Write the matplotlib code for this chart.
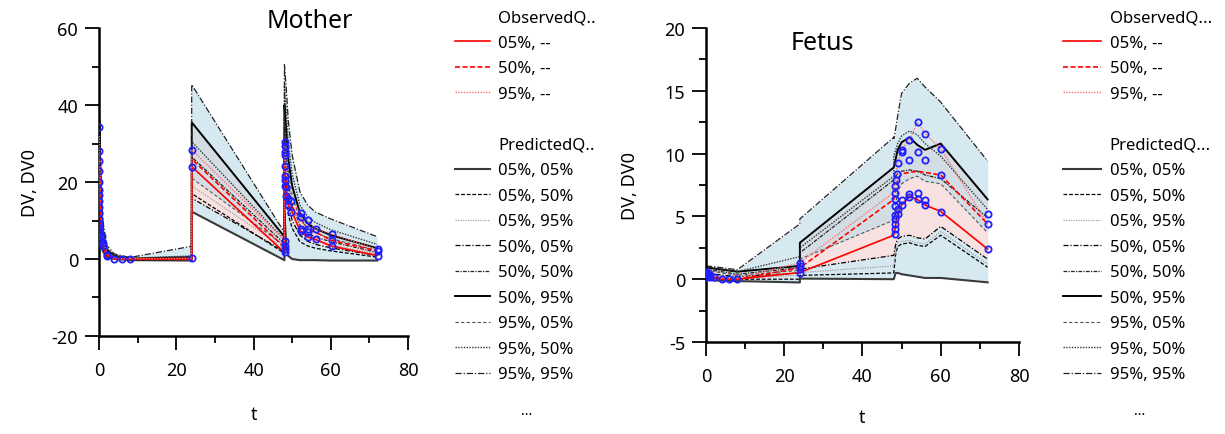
import matplotlib
matplotlib.use('Agg')
import matplotlib.pyplot as plt
from matplotlib.lines import Line2D
from matplotlib.ticker import MultipleLocator
import numpy as np

plt.rcParams['font.family'] = ['Noto Sans', 'DejaVu Sans']
plt.rcParams['axes.unicode_minus'] = False

# ---------------- Mother ----------------
t_m = [0, 0.5, 1, 2, 4, 8, 24, 24, 48, 48, 48.5, 49, 50, 52, 54, 56, 60, 72]
m_p05_05 = [15, 5, 2.0, 0.5, 0.0, -0.3, -0.4, 12.3, -0.3, 12, 3, 0.8, 0, -0.3, -0.3, -0.3, -0.4, -0.4]
m_p05_50 = [22, 7, 3.0, 0.8, 0.1, -0.2, -0.1, 17.0, 1.5, 22, 16, 11.5, 8, 4.5, 3.4, 2.8, 2.1, 0.5]
m_p05_95 = [29, 10, 4.0, 1.3, 0.3, -0.1, 0.1, 19.0, 2.8, 29, 23, 17, 12, 7.5, 5.8, 4.8, 3.7, 1.3]
m_p50_05 = [26, 9, 3.5, 1.0, 0.2, -0.1, 0.0, 15.8, 2.0, 26, 20, 14.5, 10, 6.2, 4.6, 3.8, 2.9, 0.9]
m_p50_50 = [32, 12, 5.0, 1.6, 0.4, 0.0, 0.2, 26.5, 4.0, 33, 27, 20, 14, 8.8, 6.8, 5.7, 4.5, 1.7]
m_p50_95 = [38, 16, 7.0, 2.4, 0.8, 0.1, 0.5, 35.5, 5.8, 40, 33, 26, 19, 12, 9.3, 7.9, 6.2, 2.8]
m_p95_05 = [35, 14, 6.0, 2.0, 0.6, 0.0, 0.3, 21.0, 3.5, 36, 30, 23, 16.5, 10.3, 8.0, 6.8, 5.3, 2.2]
m_p95_50 = [40, 18, 8.0, 2.8, 1.0, 0.2, 0.8, 30.5, 5.0, 45, 38, 30, 22, 14, 11, 9.5, 7.6, 3.8]
m_p95_95 = [45, 22, 10, 3.5, 1.3, 0.4, 3.3, 45.3, 6.9, 50.5, 44, 36, 27, 17.5, 14, 12.2, 10.4, 5.8]

to_m = [0.1, 0.5, 1, 2, 4, 6, 8, 24, 24, 48, 48, 49, 50, 52, 54, 56, 60, 72]
m_obs05 = [22, 8, 3.5, 0.8, 0.0, 0.0, 0.0, 0.0, 24.0, 1.7, 19.0, 13.9, 12.2, 7.4, 5.7, 5.1, 3.4, 0.9]
m_obs50 = [26, 10, 4.5, 1.0, 0.1, 0.0, 0.0, 0.1, 26.0, 3.0, 24.0, 15.6, 13.5, 10.8, 7.8, 7.0, 4.9, 2.1]
m_obs95 = [32, 14, 6.0, 1.6, 0.2, 0.1, 0.1, 0.2, 28.4, 4.8, 30.0, 16.4, 15.1, 12.0, 10.1, 7.8, 6.6, 2.5]

m_pts_t = [0.1] * 16 + [0.6, 0.8, 1.0, 1.0, 2, 2, 4, 6, 8, 24, 24, 24] + [48.2] * 12 + \
          [48.5, 48.4, 48.9, 48.9, 49.7, 49.7, 52.2, 52.2, 52.2, 52.2, 54.2, 54.2, 54.2, 54.2,
           56.2, 56.2, 60.3, 60.3, 60.3, 72.1, 72.1, 72.1]
m_pts_v = [34.4, 28, 25.5, 22.8, 20, 18, 16.5, 15, 13.5, 12, 10.5, 9, 8, 7, 6, 5] + \
          [4.8, 6.0, 4.2, 3.5, 1.0, 0.8, 0.1, 0.05, 0.0, 0.2, 28.4, 24.0] + \
          [4.8, 3.5, 2.6, 1.7, 30.3, 29.4, 27.7, 27.0, 24.1, 21.6, 20.4, 19.0] + \
          [18.6, 16.4, 15.6, 13.9, 15.1, 12.2, 12.0, 10.8, 7.8, 7.4, 10.1, 7.8, 7.0, 5.7,
           7.8, 5.1, 6.6, 4.9, 3.4, 2.5, 2.1, 0.9]

# ---------------- Fetus ----------------
t_f = [0, 2, 8, 24, 24, 48, 48, 48.5, 49, 50, 52, 54, 56, 60, 72]
f_p05_05 = [0.0, -0.1, -0.15, -0.26, 0.05, 0.0, 0.0, 0.5, 0.5, 0.4, 0.3, 0.2, 0.1, 0.1, -0.25]
f_p05_50 = [0.3, 0.1, 0.0, 0.0, 0.3, 0.5, 0.5, 2.0, 2.6, 2.8, 2.9, 2.7, 2.6, 3.5, 0.95]
f_p05_95 = [0.5, 0.3, 0.1, 0.3, 0.53, 1.06, 1.06, 2.4, 2.9, 3.0, 3.1, 2.9, 2.8, 3.8, 1.2]
f_p50_05 = [0.6, 0.4, 0.2, 0.5, 0.8, 1.9, 1.9, 2.8, 3.2, 3.4, 3.5, 3.3, 3.2, 4.2, 1.6]
f_p50_50 = [0.8, 0.7, 0.4, 0.9, 2.1, 7.9, 7.9, 8.2, 8.4, 8.6, 8.7, 8.6, 8.3, 8.0, 4.9]
f_p50_95 = [0.95, 0.85, 0.6, 1.06, 2.9, 8.9, 8.9, 9.6, 10.3, 10.9, 11.3, 10.7, 10.3, 10.8, 6.35]
f_p95_05 = [0.7, 0.6, 0.3, 0.7, 1.6, 4.7, 4.7, 6.0, 7.0, 7.6, 8.0, 8.2, 7.8, 7.6, 3.7]
f_p95_50 = [1.0, 0.9, 0.6, 1.8, 2.5, 8.2, 9.8, 10.3, 10.8, 11.4, 11.8, 11.5, 10.8, 9.8, 5.55]
f_p95_95 = [1.05, 1.0, 0.75, 4.4, 4.8, 11.3, 11.2, 12.0, 13.0, 14.8, 15.6, 16.0, 15.3, 14.1, 9.4]

to_f = [0.3, 2, 4, 6, 8, 24, 48, 49, 50, 52, 54, 56, 60, 72]
f_obs05 = [0.2, 0.1, 0.0, 0.0, 0.0, 0.53, 3.5, 5.2, 5.9, 6.6, 6.35, 5.9, 5.4, 2.4]
f_obs50 = [0.35, 0.15, 0.05, 0.0, 0.0, 0.9, 6.35, 7.9, 8.4, 8.5, 8.6, 8.5, 8.3, 4.4]
f_obs95 = [0.5, 0.3, 0.1, 0.05, 0.05, 1.32, 6.9, 9.3, 10.3, 11.1, 12.5, 11.6, 10.4, 4.4]

f_pts_t = [0.1, 0.2, 0.3, 0.5, 0.3, 1, 1, 2, 4, 6, 8, 24, 24, 24, 24] + [48.3] * 9 + \
          [48.6, 48.8, 49, 49, 49, 50.1, 50.1, 50.1, 50.1, 52, 52, 52, 52,
           54.2, 54.2, 54.2, 54.2, 56.1, 56.1, 56.1, 56.1, 60.1, 60.1, 60.1, 72.2, 72.2, 72.2]
f_pts_v = [0.5, 0.6, 0.4, 0.3, 0.2, 0.35, 0.2, 0.15, 0.05, 0.0, 0.0, 1.32, 1.06, 0.79, 0.53] + \
          [7.4, 6.9, 6.35, 5.8, 5.15, 4.76, 4.37, 3.97, 3.57] + \
          [7.9, 8.4, 9.26, 5.56, 5.16, 10.3, 10.1, 6.3, 5.87, 11.1, 9.5, 6.75, 6.56,
           12.5, 10.1, 6.88, 6.35, 11.6, 9.5, 6.3, 5.87, 10.4, 8.3, 5.37, 5.2, 4.37, 2.38]

pred_labels = ['05%, 05%', '05%, 50%', '05%, 95%', '50%, 05%', '50%, 50%',
               '50%, 95%', '95%, 05%', '95%, 50%', '95%, 95%']
obs_labels = ['05%, --', '50%, --', '95%, --']

mother_pred = [m_p05_05, m_p05_50, m_p05_95, m_p50_05, m_p50_50, m_p50_95, m_p95_05, m_p95_50, m_p95_95]
fetus_pred = [f_p05_05, f_p05_50, f_p05_95, f_p50_05, f_p50_50, f_p50_95, f_p95_05, f_p95_50, f_p95_95]

# line styles for predicted quantiles (same order as pred_labels)
pred_styles = [
    dict(ls='-', color='#3a3a3a', lw=1.5),
    dict(ls=(0, (3, 1.5)), color='black', lw=0.9),
    dict(ls=(0, (1, 1)), color='#a0a0a0', lw=0.9),
    dict(ls=(0, (4, 1.5, 1, 1.5)), color='black', lw=0.9),
    dict(ls=(0, (3, 1, 1, 1)), color='#222222', lw=0.9),
    dict(ls='-', color='black', lw=1.4),
    dict(ls=(0, (3, 2)), color='#555555', lw=0.8),
    dict(ls=(0, (1, 1)), color='#333333', lw=1.0),
    dict(ls=(0, (5, 1.5, 1, 1.5)), color='#222222', lw=0.9),
]
obs_styles = [
    dict(ls='-', color='red', lw=1.2),
    dict(ls=(0, (3, 1.5)), color='red', lw=1.2),
    dict(ls=(0, (1, 1)), color='#ff7070', lw=1.0),
]

C_BLUE = '#d6e9f1'
C_GREY = '#d4dde4'
C_PINK = '#f7e2e1'


def draw_panel(ax, t, pred, to, obs, pts_t, pts_v, ylim, ymajor, yminor):
    t = np.array(t)
    p = [np.array(v, dtype=float) for v in pred]
    ax.fill_between(t, p[0], p[8], color=C_BLUE, lw=0, zorder=1)
    # median CI, part not shared with the 95th CI
    ax.fill_between(t, p[3], p[6], where=p[6] > p[3], interpolate=True,
                    color=C_PINK, lw=0, zorder=1)
    # overlap of median CI and 95th CI
    ax.fill_between(t, p[6], p[5], where=p[5] > p[6], interpolate=True,
                    color=C_GREY, lw=0, zorder=1)
    for v, st in zip(p, pred_styles):
        ax.plot(t, v, zorder=2, **st)
    for v, st in zip(obs, obs_styles):
        ax.plot(to, v, zorder=3, **st)
    ax.plot(pts_t, pts_v, 'o', mfc='none', mec='#2020ff', ms=4.5, mew=1.3, zorder=4)

    ax.set_xlim(0, 80)
    ax.set_ylim(*ylim)
    ax.xaxis.set_major_locator(MultipleLocator(20))
    ax.xaxis.set_minor_locator(MultipleLocator(10))
    ax.yaxis.set_major_locator(MultipleLocator(ymajor))
    ax.yaxis.set_minor_locator(MultipleLocator(yminor))
    for s in ['top', 'right']:
        ax.spines[s].set_visible(False)
    for s in ['left', 'bottom']:
        ax.spines[s].set_linewidth(1.8)
    ax.tick_params(which='major', direction='out', length=10, width=1.3, labelsize=13, pad=5)
    ax.tick_params(axis='x', which='major', pad=8)
    ax.tick_params(which='minor', direction='out', length=5, width=1.3)
    ax.set_xlabel('t', fontsize=13)
    ax.set_ylabel('DV, DV0', fontsize=13)


def add_legend(fig, x, y, hl, obs_head, pred_head):
    blank = Line2D([], [], color='none')
    handles = [blank] + [Line2D([], [], **st) for st in obs_styles] + [blank, blank] + \
              [Line2D([], [], **st) for st in pred_styles]
    labels = [obs_head] + obs_labels + ['', pred_head] + pred_labels
    fig.legend(handles, labels, loc='upper left', bbox_to_anchor=(x, y), frameon=False,
               fontsize=12, handlelength=hl, handletextpad=0.5, labelspacing=0.57,
               borderpad=0, borderaxespad=0)


fig = plt.figure(figsize=(12.25, 4.35), dpi=100)
ax1 = fig.add_axes([0.0808, 0.2253, 0.2523, 0.708])
ax2 = fig.add_axes([0.5763, 0.2115, 0.2555, 0.7218])

draw_panel(ax1, t_m, mother_pred, to_m, [m_obs05, m_obs50, m_obs95], m_pts_t, m_pts_v,
           (-20, 60), 20, 10)
draw_panel(ax2, t_f, fetus_pred, to_f, [f_obs05, f_obs50, f_obs95], f_pts_t, f_pts_v,
           (-5, 20), 5, 2.5)

ax1.yaxis.set_label_coords(-0.223, 0.5)
ax2.yaxis.set_label_coords(-0.243, 0.5)
ax1.xaxis.set_label_coords(0.5, -0.253)
ax2.xaxis.set_label_coords(0.5, -0.239)
for ax in (ax1, ax2):
    ax.xaxis.label.set_va('center')
    ax.yaxis.label.set_va('center')

fig.text(310 / 1225, 1 - 22 / 435, 'Mother', ha='center', va='center', fontsize=18)
fig.text(822 / 1225, 1 - 43 / 435, 'Fetus', ha='center', va='center', fontsize=18)

add_legend(fig, 455 / 1225, 0.976, 2.1, 'ObservedQ..', 'PredictedQ..')
add_legend(fig, 1063 / 1225, 0.976, 2.3, 'ObservedQ...', 'PredictedQ...')
fig.text(527 / 1225, 1 - 412 / 435, '...', ha='center', va='center', fontsize=10)
fig.text(1140 / 1225, 1 - 412 / 435, '...', ha='center', va='center', fontsize=10)

fig.savefig('out.png', dpi=100)
